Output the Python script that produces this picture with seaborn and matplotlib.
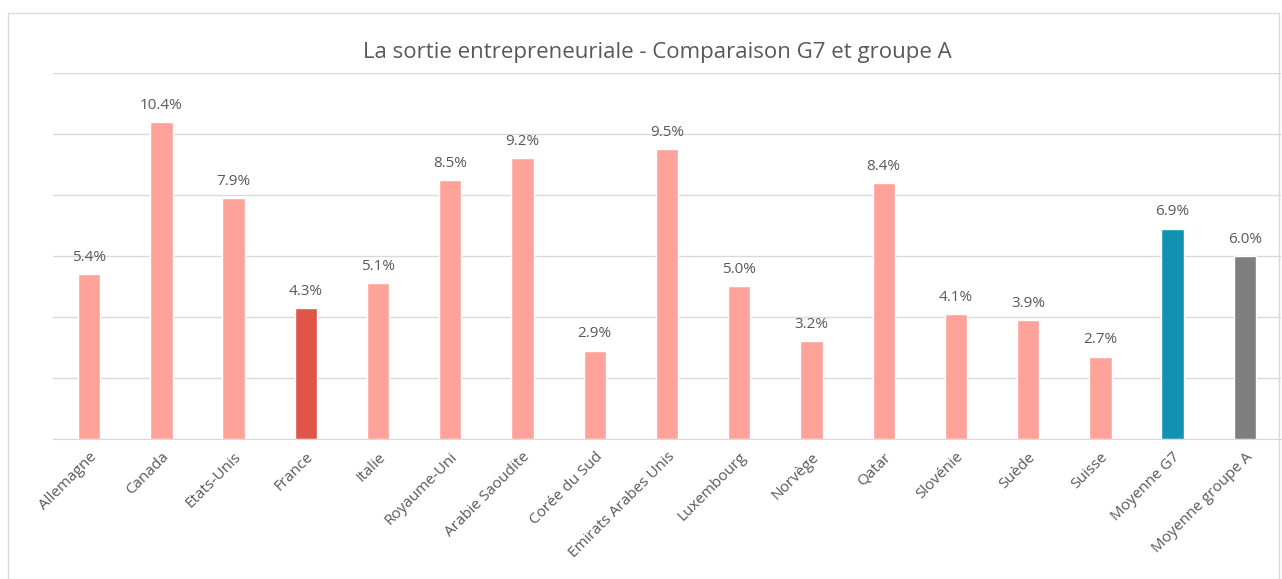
import matplotlib
matplotlib.use("Agg")
import matplotlib.pyplot as plt
import seaborn as sns
import pandas as pd
from matplotlib.patches import Rectangle

# data
pays = ['Allemagne', 'Canada', 'Etats-Unis', 'France', 'Italie', 'Royaume-Uni',
        'Arabie Saoudite', 'Corée du Sud', 'Emirats Arabes Unis', 'Luxembourg',
        'Norvège', 'Qatar', 'Slovénie', 'Suède', 'Suisse', 'Moyenne G7',
        'Moyenne groupe A']
taux = [5.4, 10.4, 7.9, 4.3, 5.1, 8.5, 9.2, 2.9, 9.5, 5.0, 3.2, 8.4, 4.1, 3.9, 2.7, 6.9, 6.0]

rose = '#FFA39A'
couleurs = [rose] * len(pays)
couleurs[pays.index('France')] = '#E0554A'
couleurs[pays.index('Moyenne G7')] = '#1391B0'
couleurs[pays.index('Moyenne groupe A')] = '#7F7F7F'

df = pd.DataFrame({'pays': pays, 'taux': taux})

sns.set_style('white')
plt.rcParams['font.family'] = ['Open Sans', 'DejaVu Sans']
gris = '#595959'

fig = plt.figure(figsize=(12.82, 5.79), dpi=100)
ax = fig.add_axes([53 / 1282, 0.2418, 1228 / 1282, 0.6322])

sns.barplot(data=df, x='pays', y='taux', hue='pays', palette=couleurs,
            legend=False, width=0.31, ax=ax, saturation=1)

for i, v in enumerate(taux):
    ax.text(i, v + 0.3, f'{v:.1f}%', ha='center', va='bottom', fontsize=11, color=gris)

ax.set_ylim(0, 12)
ax.set_xlim(-0.5, len(pays) - 0.5)
ax.set_yticks(range(0, 13, 2))
ax.yaxis.grid(True, color='#D9D9D9', linewidth=1)
ax.set_axisbelow(True)
ax.tick_params(axis='y', left=False, labelleft=False)
ax.tick_params(axis='x', bottom=False, pad=4)
ax.set_xticks(range(len(pays)))
ax.set_xticklabels(pays, rotation=45, ha='right', rotation_mode='anchor',
                   fontsize=11, color=gris)
for s in ['top', 'left', 'right']:
    ax.spines[s].set_visible(False)
ax.spines['bottom'].set_color('#D9D9D9')
ax.set_xlabel('')
ax.set_ylabel('')

fig.text(0.5125, 0.91, 'La sortie entrepreneuriale - Comparaison G7 et groupe A',
         ha='center', va='center', fontsize=16, color=gris)

fig.patches.append(Rectangle((8 / 1282, -0.01), 1271 / 1282, 1 - 13 / 579 + 0.01,
                             transform=fig.transFigure, fill=False,
                             edgecolor='#D9D9D9', linewidth=1))

fig.savefig('out.png', dpi=100)
